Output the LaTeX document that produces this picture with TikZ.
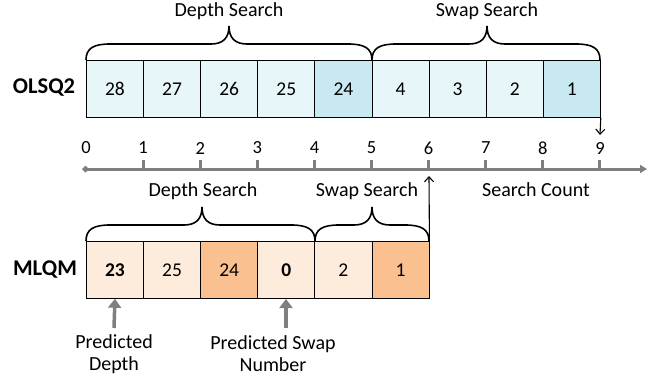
\documentclass[tikz,border=0pt]{standalone}
\usepackage{fontspec}
\setmainfont{Carlito}
\usetikzlibrary{arrows.meta}
\definecolor{cyanL}{HTML}{E6F6F9}
\definecolor{cyanD}{HTML}{C8E9F2}
\definecolor{orgL}{HTML}{FDEBDB}
\definecolor{orgD}{HTML}{FAC08F}
\definecolor{axgray}{HTML}{7F7F7F}
\tikzset{
  cell/.style={draw=black, line width=0.8pt, minimum width=57.1pt, minimum height=57pt, inner sep=0pt, anchor=north west, font=\fontsize{19.5}{22}\selectfont},
  lbl/.style={font=\fontsize{20}{22}\selectfont, inner sep=0pt},
  rowlbl/.style={font=\fontsize{22.5}{24}\selectfont\bfseries, inner sep=0pt},
  tick/.style={font=\fontsize{18.5}{20}\selectfont, inner sep=0pt},
  brc/.style={draw=black, line width=1.6pt},
  graywide/.style={draw=axgray, line width=3.5pt, -{Triangle[length=9pt,width=13pt]}},
  thinarrow/.style={draw=black, line width=1.1pt, -{Straight Barb[length=5pt,width=9pt]}}
}
% brace: #1 x1, #2 x2, #3 box top y, #4 tip x
\newcommand{\mybrace}[4]{%
  \draw[brc] (#1,#3) .. controls (#1,#3-12) and (#1+8,#3-16) .. (#1+24,#3-16)
    -- (#4-18,#3-16) .. controls (#4-6,#3-16) and (#4,#3-22) .. (#4,#3-34)
    .. controls (#4,#3-22) and (#4+6,#3-16) .. (#4+18,#3-16)
    -- (#2-24,#3-16) .. controls (#2-8,#3-16) and (#2,#3-12) .. (#2,#3);}
\begin{document}
\begin{tikzpicture}[x=1pt,y=-1pt]
\useasboundingbox (0,0) rectangle (649,383);
% OLSQ2 row
\node[rowlbl] (olsq) at (44,88) {OLSQ2};
\foreach \v [count=\i from 0] in {28,27,26,25,24,4,3,2,1} {
  \pgfmathsetmacro{\xx}{86+57.11*\i}
  \ifnum\i=4 \def\fc{cyanD}\else\ifnum\i=8 \def\fc{cyanD}\else\def\fc{cyanL}\fi\fi
  \node[cell, fill=\fc] (o\i) at (\xx,60) {\v};
}
\mybrace{86}{372}{60}{229}
\mybrace{372}{600}{60}{487}
\node[lbl] (od) at (229,11) {Depth Search};
\node[lbl] (os) at (487,11) {Swap Search};
% axis
\coordinate (axL) at (82,169);
\coordinate (axR) at (647,169);
\draw[axgray, line width=3pt, {Diamond[length=7pt,width=7pt]}-{Triangle[length=7pt,width=8pt]}] (axL) -- (axR);
\foreach \i in {0,...,9} {
  \pgfmathsetmacro{\xx}{86+57.11*\i}
  \ifnum\i>0 \draw[axgray, line width=3pt] (\xx,160) -- (\xx,169); \fi
  \node[tick] (t\i) at (\xx,148) {\i};
}
\coordinate (a9) at (600,135);
\draw[thinarrow] (o8.south east) -- (a9);
\node[lbl] (sc) at (536,190) {Search Count};
% MLQM row
\node[rowlbl] (mlqm) at (45,270) {MLQM};
\foreach \v/\fc [count=\i from 0] in {\textbf{23}/orgL,25/orgL,24/orgD,\textbf{0}/orgL,2/orgL,1/orgD} {
  \pgfmathsetmacro{\xx}{86+57.11*\i}
  \node[cell, fill=\fc] (m\i) at (\xx,241) {\v};
}
\mybrace{86}{315}{241}{202}
\mybrace{315}{429}{241}{372}
\node[lbl] (md) at (203,191) {Depth Search};
\node[lbl] (ms) at (367,191) {Swap Search};
\coordinate (a6) at (429,176);
\draw[thinarrow] (m5.north east) -- (a6);
% predicted labels
\node[lbl, align=center] (pd) at (114,354) {Predicted\\Depth};
\node[lbl, align=center] (ps) at (273,354) {Predicted Swap\\Number};
\draw[graywide] (114,328) -- (m0.south);
\draw[graywide] (286,328) -- (286,299);
\end{tikzpicture}
\end{document}
